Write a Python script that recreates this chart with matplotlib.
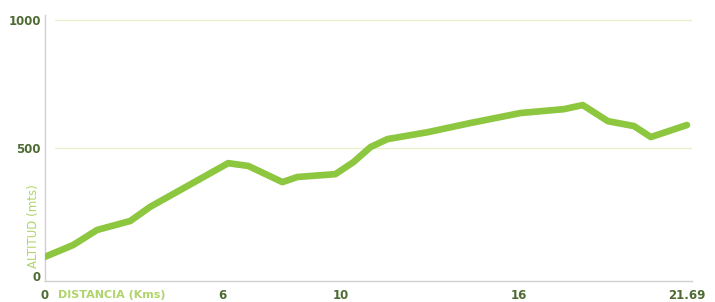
import matplotlib
matplotlib.use("Agg")
import matplotlib.pyplot as plt

dist_km = [0.0, 0.95, 1.76, 2.88, 3.55, 4.57, 6.19, 6.87, 8.02, 8.53, 9.81, 10.42,
           11.0, 11.57, 12.93, 14.38, 16.07, 17.53, 18.17, 19.02, 19.9, 20.47, 21.69]
altitud_m = [75, 121, 180, 215, 270, 336, 441, 430, 367, 387, 398, 445,
             504, 535, 562, 598, 637, 652, 668, 605, 586, 543, 590]
x_ticks = [0, 6, 10, 16, 21.69]
x_tick_labels = ["0", "6", "10", "16", "21.69"]
y_ticks = [0, 500, 1000]
y_tick_labels = ["0", "500", "1000"]

LINE = "#8dc63f"
DARK = "#4d6b33"
LIGHT = "#b0d46a"
GRID = "#e9f0cc"

fig = plt.figure(figsize=(7.15, 3.02), dpi=100)
ax = fig.add_axes([45/715, 1-281/302, (692-45)/715, (281-15)/302])
ax.set_xlim(0, 21.86)
ax.set_ylim(-19.5, 1020)

for v in y_ticks[1:]:
    ax.axhline(v, xmin=0.015, xmax=1.0, color=GRID, lw=1.0, zorder=1)

ax.plot(dist_km, altitud_m, color=LINE, lw=4.8, solid_capstyle="round",
        solid_joinstyle="round", zorder=3)

for s in ["top", "right"]:
    ax.spines[s].set_visible(False)
ax.spines["left"].set_color("#d0d0d0")
ax.spines["bottom"].set_color("#d0d0d0")
ax.spines["left"].set_linewidth(1.0)
ax.spines["bottom"].set_linewidth(1.0)

ax.set_xticks(x_ticks)
ax.set_xticklabels(x_tick_labels)
ax.set_yticks(y_ticks)
ax.set_yticklabels(y_tick_labels)
ax.tick_params(axis="both", length=0, labelsize=8.5, labelcolor=DARK)
ax.tick_params(axis="x", pad=6)
ax.tick_params(axis="y", pad=3)
for lab in ax.get_xticklabels() + ax.get_yticklabels():
    lab.set_fontweight("bold")

ax.text(0.45, -0.053, "DISTANCIA (Kms)", transform=ax.get_xaxis_transform(),
        ha="left", va="center", fontsize=8, color=LIGHT, fontweight="bold")
ax.text(-0.008, 195, "ALTITUD (mts)", transform=ax.get_yaxis_transform(),
        ha="right", va="center", rotation=90, fontsize=8.5, color=LIGHT)

fig.savefig("out.png", dpi=100)
